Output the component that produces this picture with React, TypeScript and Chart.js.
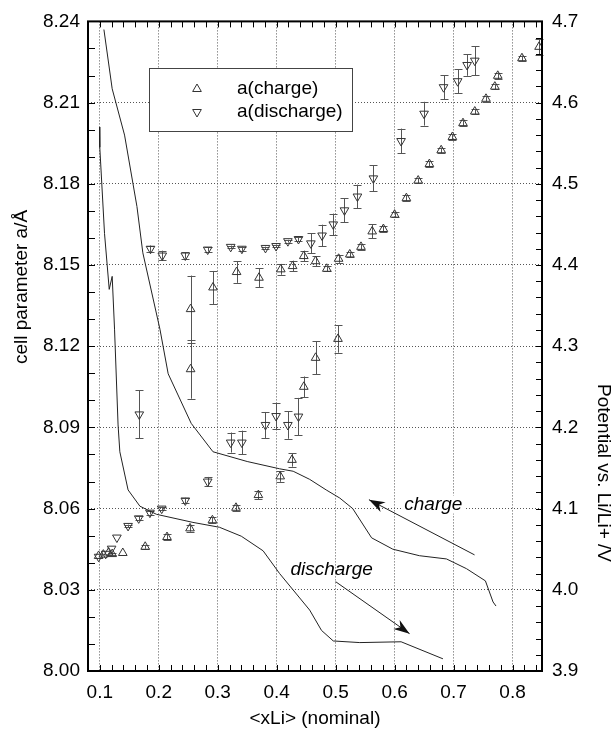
import React, { useEffect, useRef } from 'react';
import { Chart, registerables } from 'chart.js';

Chart.register(...registerables);

// ---------- tick labels ----------
const xTicks = [0.1, 0.2, 0.3, 0.4, 0.5, 0.6, 0.7, 0.8];
const yLeftTicks = [8.0, 8.03, 8.06, 8.09, 8.12, 8.15, 8.18, 8.21, 8.24];
const yRightTicks = [3.9, 4.0, 4.1, 4.2, 4.3, 4.4, 4.5, 4.6, 4.7];

// ---------- lattice parameter, charge ----------
const chargeX = [0.098, 0.106, 0.115, 0.121, 0.139, 0.177, 0.214, 0.253, 0.291, 0.331, 0.369, 0.406, 0.426, 0.446, 0.466, 0.504, 0.254, 0.254, 0.292, 0.332, 0.370, 0.407, 0.427, 0.446, 0.466, 0.485, 0.505, 0.524, 0.543, 0.562, 0.581, 0.600, 0.620, 0.640, 0.659, 0.679, 0.698, 0.716, 0.736, 0.755, 0.770, 0.775, 0.816, 0.845];
const chargeA = [8.0425, 8.0430, 8.0438, 8.0432, 8.0436, 8.0459, 8.0495, 8.0527, 8.0557, 8.0603, 8.0650, 8.0719, 8.0780, 8.1050, 8.1157, 8.1227, 8.1115, 8.1337, 8.1417, 8.1474, 8.1453, 8.1484, 8.1496, 8.1533, 8.1514, 8.1486, 8.1523, 8.1539, 8.1567, 8.1624, 8.1633, 8.1686, 8.1747, 8.1812, 8.1873, 8.1924, 8.1973, 8.2024, 8.2067, 8.2114, 8.2159, 8.2199, 8.2264, 8.2306];
const chargeErr = [0, 0, 0, 0.0005, 0, 0.0007, 0.0012, 0.0012, 0.0012, 0.0012, 0.0015, 0.002, 0.0025, 0.0038, 0.0061, 0.0051, 0.0109, 0.0124, 0.0061, 0.004, 0.0035, 0.002, 0.002, 0.002, 0.0018, 0.001, 0.0015, 0.001, 0.001, 0.0026, 0.0012, 0.001, 0.001, 0.001, 0.001, 0.001, 0.001, 0.001, 0.001, 0.001, 0.001, 0.0012, 0.001, 0.003];

// ---------- lattice parameter, discharge ----------
const dischargeX = [0.098, 0.110, 0.120, 0.129, 0.148, 0.166, 0.185, 0.205, 0.245, 0.283, 0.167, 0.186, 0.206, 0.245, 0.283, 0.322, 0.341, 0.322, 0.341, 0.381, 0.381, 0.399, 0.399, 0.419, 0.419, 0.437, 0.437, 0.458, 0.477, 0.496, 0.515, 0.537, 0.564, 0.611, 0.650, 0.683, 0.707, 0.723, 0.736];
const dischargeA = [8.0422, 8.0433, 8.0452, 8.0493, 8.0536, 8.0564, 8.0585, 8.0600, 8.0630, 8.0700, 8.0948, 8.1560, 8.1535, 8.1535, 8.1557, 8.1567, 8.1560, 8.0844, 8.0844, 8.0909, 8.1563, 8.0942, 8.1570, 8.0909, 8.1588, 8.0940, 8.1596, 8.1580, 8.1609, 8.1650, 8.1702, 8.1753, 8.1820, 8.1958, 8.2059, 8.2157, 8.2179, 8.2239, 8.2255];
const dischargeErr = [0, 0, 0, 0, 0.0005, 0.0007, 0.0007, 0.0007, 0.001, 0.0017, 0.0089, 0.0012, 0.0018, 0.0012, 0.0008, 0.0005, 0.0008, 0.0037, 0.0044, 0.0048, 0.0005, 0.0048, 0.0005, 0.0051, 0.0005, 0.0069, 0.0008, 0.0037, 0.004, 0.004, 0.0044, 0.0044, 0.0048, 0.0046, 0.0044, 0.0044, 0.0044, 0.004, 0.0054];

// ---------- potential curves (right axis) ----------
const potChargeX = [0.107, 0.121, 0.142, 0.163, 0.173, 0.202, 0.216, 0.255, 0.292, 0.350, 0.405, 0.428, 0.456, 0.484, 0.507, 0.529, 0.561, 0.597, 0.642, 0.688, 0.722, 0.754, 0.767, 0.772];
const potChargeV = [4.690, 4.617, 4.560, 4.472, 4.415, 4.321, 4.266, 4.205, 4.170, 4.158, 4.149, 4.146, 4.136, 4.123, 4.113, 4.100, 4.064, 4.050, 4.042, 4.038, 4.026, 4.011, 3.985, 3.980];
const potDischargeX = [0.0995, 0.100, 0.108, 0.116, 0.121, 0.125, 0.131, 0.134, 0.148, 0.168, 0.196, 0.258, 0.303, 0.340, 0.377, 0.405, 0.456, 0.476, 0.496, 0.541, 0.611, 0.682];
const potDischargeV = [4.57, 4.545, 4.439, 4.370, 4.386, 4.321, 4.203, 4.170, 4.123, 4.103, 4.093, 4.083, 4.077, 4.066, 4.048, 4.020, 3.975, 3.950, 3.937, 3.935, 3.936, 3.915];

// ---------- annotations (x, potential) ----------
const chargeArrowFrom = [0.7356, 4.043];
const chargeArrowTo = [0.5565, 4.111];
const chargeLabelPos = [0.6657, 4.105];
const dischargeArrowFrom = [0.500, 4.010];
const dischargeArrowTo = [0.6254, 3.946];
const dischargeLabelPos = [0.4932, 4.025];

const FONT = "'Liberation Sans', Arial, Helvetica, sans-serif";

function toPts(xs: number[], ys: number[]) {
  return xs.map((x, i) => ({ x, y: ys[i] }));
}

function drawArrow(ctx: CanvasRenderingContext2D, x0: number, y0: number, x1: number, y1: number) {
  ctx.save();
  ctx.strokeStyle = '#222';
  ctx.fillStyle = '#111';
  ctx.lineWidth = 1;
  ctx.beginPath();
  ctx.moveTo(x0, y0);
  ctx.lineTo(x1, y1);
  ctx.stroke();
  const ang = Math.atan2(y1 - y0, x1 - x0);
  const L = 16, W = 5.5;
  const bx = x1 - Math.cos(ang) * L, by = y1 - Math.sin(ang) * L;
  const nx = x1 - Math.cos(ang) * L * 0.7, ny = y1 - Math.sin(ang) * L * 0.7;
  const px = -Math.sin(ang), py = Math.cos(ang);
  ctx.beginPath();
  ctx.moveTo(x1, y1);
  ctx.lineTo(bx + px * W, by + py * W);
  ctx.lineTo(nx, ny);
  ctx.lineTo(bx - px * W, by - py * W);
  ctx.closePath();
  ctx.fill();
  ctx.restore();
}

const errorBarPlugin = {
  id: 'errorBars',
  beforeDatasetsDraw(chart: any) {
    const ctx = chart.ctx;
    const xs = chart.scales.x;
    const ys = chart.scales.y;
    ctx.save();
    ctx.strokeStyle = '#555';
    ctx.lineWidth = 1;
    chart.data.datasets.forEach((ds: any) => {
      if (!ds.errors) return;
      ds.data.forEach((p: any, i: number) => {
        const e = ds.errors[i];
        if (!e) return;
        const px = Math.round(xs.getPixelForValue(p.x)) + 0.5;
        const top = ys.getPixelForValue(p.y + e);
        const bot = ys.getPixelForValue(p.y - e);
        ctx.beginPath();
        ctx.moveTo(px, top);
        ctx.lineTo(px, bot);
        ctx.moveTo(px - 4, Math.round(top) + 0.5);
        ctx.lineTo(px + 4, Math.round(top) + 0.5);
        ctx.moveTo(px - 4, Math.round(bot) + 0.5);
        ctx.lineTo(px + 4, Math.round(bot) + 0.5);
        ctx.stroke();
      });
    });
    ctx.restore();
  },
};

const decorPlugin = {
  id: 'decor',
  afterDraw(chart: any) {
    const ctx: CanvasRenderingContext2D = chart.ctx;
    const { left, right, top, bottom } = chart.chartArea;
    const xs = chart.scales.x;
    const ys = chart.scales.y;
    const y2 = chart.scales.y2;

    // frame
    ctx.save();
    ctx.strokeStyle = '#000';
    ctx.lineWidth = 2;
    ctx.strokeRect(left, top, right - left, bottom - top);

    // inward ticks
    ctx.lineWidth = 1;
    ctx.beginPath();
    for (let k = 0; k <= 37; k++) {
      const v = 0.1 + k * 0.02;
      if (v > 0.849) break;
      const px = Math.round(xs.getPixelForValue(v)) + 0.5;
      ctx.moveTo(px, bottom);
      ctx.lineTo(px, bottom - 6);
      ctx.moveTo(px, top);
      ctx.lineTo(px, top + 6);
    }
    for (let k = 1; k < 24; k++) {
      const v = 8.0 + k * 0.01;
      const py = Math.round(ys.getPixelForValue(v)) + 0.5;
      ctx.moveTo(left, py);
      ctx.lineTo(left + 7, py);
    }
    for (let k = 1; k < 40; k++) {
      const v = 3.9 + k * 0.02;
      const py = Math.round(y2.getPixelForValue(v)) + 0.5;
      ctx.moveTo(right, py);
      ctx.lineTo(right - 6, py);
    }
    ctx.stroke();

    // axis titles
    ctx.fillStyle = '#000';
    ctx.font = `19px ${FONT}`;
    ctx.textAlign = 'center';
    ctx.textBaseline = 'middle';
    ctx.fillText('<xLi> (nominal)', (left + right) / 2, 719);
    ctx.save();
    ctx.translate(22, 287);
    ctx.rotate(-Math.PI / 2);
    ctx.fillText('cell parameter a/Å', 0, 0);
    ctx.restore();
    ctx.save();
    ctx.translate(603, 473);
    ctx.rotate(Math.PI / 2);
    ctx.fillText('Potential vs. Li/Li+ /V', 0, 0);
    ctx.restore();

    // legend
    const lx = 149, ly = 68, lw = 203, lh = 63;
    ctx.fillStyle = '#fff';
    ctx.fillRect(lx, ly, lw, lh);
    ctx.strokeStyle = '#444';
    ctx.lineWidth = 1;
    ctx.strokeRect(lx + 0.5, ly + 0.5, lw, lh);
    const items = [
      { label: chart.data.datasets[0].label, rot: 0, y: ly + 21 },
      { label: chart.data.datasets[1].label, rot: 180, y: ly + 44 },
    ];
    items.forEach((it) => {
      ctx.save();
      ctx.translate(197, it.y);
      ctx.rotate((it.rot * Math.PI) / 180);
      const r = 5;
      ctx.beginPath();
      for (let j = 0; j < 3; j++) {
        const a = (j * 2 * Math.PI) / 3;
        const px = Math.sin(a) * r, py = -Math.cos(a) * r;
        if (j === 0) ctx.moveTo(px, py); else ctx.lineTo(px, py);
      }
      ctx.closePath();
      ctx.strokeStyle = '#333';
      ctx.stroke();
      ctx.restore();
      ctx.fillStyle = '#000';
      ctx.font = `19px ${FONT}`;
      ctx.textAlign = 'left';
      ctx.textBaseline = 'middle';
      ctx.fillText(it.label, 237, it.y);
    });

    // arrows and labels
    const P = (p: number[]) => [xs.getPixelForValue(p[0]), y2.getPixelForValue(p[1])];
    const [a0x, a0y] = P(chargeArrowFrom);
    const [a1x, a1y] = P(chargeArrowTo);
    drawArrow(ctx, a0x, a0y, a1x, a1y);
    const [b0x, b0y] = P(dischargeArrowFrom);
    const [b1x, b1y] = P(dischargeArrowTo);
    drawArrow(ctx, b0x, b0y, b1x, b1y);

    ctx.font = `italic 19px ${FONT}`;
    ctx.textAlign = 'center';
    ctx.textBaseline = 'middle';
    const [cx, cy] = P(chargeLabelPos);
    ctx.fillStyle = '#fff';
    const cw = ctx.measureText('charge').width;
    ctx.fillRect(cx - cw / 2 - 3, cy - 9, cw + 6, 18);
    ctx.fillStyle = '#000';
    ctx.fillText('charge', cx, cy);
    const [dx, dy] = P(dischargeLabelPos);
    ctx.fillText('discharge', dx, dy);

    ctx.restore();
  },
};

export default function App() {
  const ref = useRef<HTMLCanvasElement | null>(null);

  useEffect(() => {
    if (!ref.current) return;
    const tickFont = { family: FONT, size: 19 };
    const chart = new Chart(ref.current, {
      type: 'scatter',
      data: {
        datasets: [
          {
            label: 'a(charge)',
            data: toPts(chargeX, chargeA),
            errors: chargeErr,
            pointStyle: 'triangle',
            pointRadius: 5,
            pointRotation: 0,
            borderColor: '#333',
            backgroundColor: 'rgba(255,255,255,0)',
            borderWidth: 1,
            yAxisID: 'y',
          } as any,
          {
            label: 'a(discharge)',
            data: toPts(dischargeX, dischargeA),
            errors: dischargeErr,
            pointStyle: 'triangle',
            pointRadius: 5,
            pointRotation: 180,
            borderColor: '#333',
            backgroundColor: 'rgba(255,255,255,0)',
            borderWidth: 1,
            yAxisID: 'y',
          } as any,
          {
            label: 'potential charge',
            data: toPts(potChargeX, potChargeV),
            showLine: true,
            pointRadius: 0,
            borderColor: '#222',
            borderWidth: 1,
            tension: 0,
            yAxisID: 'y2',
          },
          {
            label: 'potential discharge',
            data: toPts(potDischargeX, potDischargeV),
            showLine: true,
            pointRadius: 0,
            borderColor: '#222',
            borderWidth: 1,
            tension: 0,
            yAxisID: 'y2',
          },
        ],
      },
      options: {
        responsive: false,
        animation: false,
        devicePixelRatio: 1,
        layout: { padding: { top: 17, left: 0, right: 0, bottom: 0 } },
        plugins: { legend: { display: false }, tooltip: { enabled: false } },
        scales: {
          x: {
            type: 'linear',
            min: 0.08,
            max: 0.85,
            afterBuildTicks: (s: any) => { s.ticks = xTicks.map((v) => ({ value: v })); },
            afterFit: (s: any) => { s.height = 58; },
            grid: { color: '#555', lineWidth: 1, drawTicks: false },
            border: { display: false, dash: [1, 2] },
            ticks: {
              font: tickFont, color: '#000', padding: 10, maxRotation: 0, autoSkip: false,
              callback: (v: any) => Number(v).toFixed(1),
            },
          },
          y: {
            type: 'linear',
            position: 'left',
            min: 8.0,
            max: 8.24,
            afterBuildTicks: (s: any) => { s.ticks = yLeftTicks.map((v) => ({ value: v })); },
            afterFit: (s: any) => { s.width = 88; },
            grid: { color: '#555', lineWidth: 1, drawTicks: false },
            border: { display: false, dash: [1, 2] },
            ticks: {
              font: tickFont, color: '#000', padding: 8, autoSkip: false,
              callback: (v: any) => Number(v).toFixed(2),
            },
          },
          y2: {
            type: 'linear',
            position: 'right',
            min: 3.9,
            max: 4.7,
            afterBuildTicks: (s: any) => { s.ticks = yRightTicks.map((v) => ({ value: v })); },
            afterFit: (s: any) => { s.width = 71; },
            grid: { display: false, drawTicks: false },
            border: { display: false },
            ticks: {
              font: tickFont, color: '#000', padding: 10, autoSkip: false,
              callback: (v: any) => Number(v).toFixed(1),
            },
          },
        },
      } as any,
      plugins: [errorBarPlugin, decorPlugin],
    });
    return () => chart.destroy();
  }, []);

  return (
    <div style={{ position: 'fixed', left: 0, top: 0, width: 613, height: 729, background: '#fff' }}>
      <canvas ref={ref} width={613} height={729} style={{ display: 'block', width: 613, height: 729 }} />
    </div>
  );
}
